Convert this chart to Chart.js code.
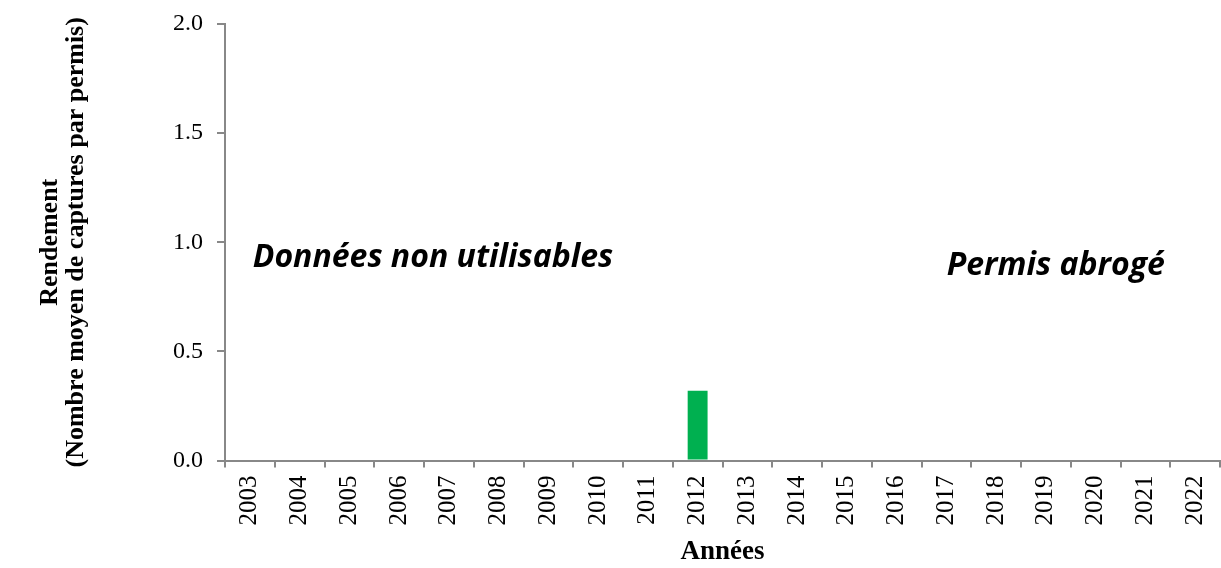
<!DOCTYPE html>
<html>
<head>
<meta charset="utf-8">
<style>
  html, body { margin: 0; padding: 0; background: #fff; }
  #wrap { position: relative; width: 1221px; height: 568px; }
</style>
</head>
<body>
<div id="wrap">
  <canvas id="rendementChart"></canvas>
</div>

<script src="https://cdn.jsdelivr.net/npm/chart.js@4.4.1/dist/chart.umd.js"></script>
<script>
  const annees = ['2003', '2004', '2005', '2006', '2007', '2008', '2009', '2010', '2011', '2012',
                  '2013', '2014', '2015', '2016', '2017', '2018', '2019', '2020', '2021', '2022'];
  const rendement = [null, null, null, null, null, null, null, null, null, 0.32,
                     null, null, null, null, null, null, null, null, null, null];
  const notes = [
    { text: 'Données non utilisables', x: 3.68, y: 0.93 },
    { text: 'Permis abrogé', x: 16.2, y: 0.89 }
  ];

  const serif = '"Liberation Serif", "DejaVu Serif", serif';

  // texte libre dans la zone du graphique
  const notesPlugin = {
    id: 'notes',
    afterDatasetsDraw(chart) {
      const c = chart.ctx;
      const xs = chart.scales.x, ys = chart.scales.y;
      const step = xs.getPixelForValue(1) - xs.getPixelForValue(0);
      c.save();
      c.font = 'italic bold 32px "Open Sans", "Liberation Sans", sans-serif';
      c.fillStyle = '#000';
      c.textAlign = 'center';
      c.textBaseline = 'middle';
      notes.forEach(n => {
        const px = xs.getPixelForValue(0) + n.x * step;
        c.fillText(n.text, px, ys.getPixelForValue(n.y));
      });
      c.restore();
    }
  };

  new Chart(document.getElementById('rendementChart'), {
    type: 'bar',
    data: {
      labels: annees,
      datasets: [{
        label: 'Rendement',
        data: rendement,
        backgroundColor: '#00b050',
        categoryPercentage: 1,
        barPercentage: 0.4
      }]
    },
    options: {
      responsive: true,
      maintainAspectRatio: false,
      animation: false,
      layout: { padding: { left: 37, right: 1, top: 24, bottom: 0 } },
      plugins: {
        legend: { display: false },
        tooltip: { enabled: false }
      },
      scales: {
        x: {
          afterFit: s => { s.paddingRight = 0; },
          grid: { display: true, drawOnChartArea: false, drawTicks: true, tickLength: 7, color: '#888', lineWidth: 2 },
          border: { color: '#888', width: 2 },
          ticks: { color: '#000', font: { family: serif, size: 25 }, minRotation: 90, maxRotation: 90, padding: 8 },
          title: { display: true, text: 'Années', color: '#000', font: { family: serif, size: 27, weight: 'bold' }, padding: { top: 2, bottom: 0 } }
        },
        y: {
          min: 0,
          max: 2,
          afterFit: s => { s.paddingTop = 0; },
          grid: { display: true, drawOnChartArea: false, drawTicks: true, tickLength: 8, color: '#888', lineWidth: 2 },
          border: { color: '#888', width: 2 },
          ticks: {
            stepSize: 0.5,
            color: '#000',
            font: { family: serif, size: 24 },
            padding: 14,
            callback: v => v.toFixed(1)
          },
          title: {
            display: true,
            text: ['Rendement', '(Nombre moyen de captures par permis)'],
            color: '#000',
            font: { family: serif, size: 26, weight: 'bold', lineHeight: 1.0 },
            padding: { top: 0, bottom: 70 }
          }
        }
      }
    },
    plugins: [notesPlugin]
  });
</script>
</body>
</html>
